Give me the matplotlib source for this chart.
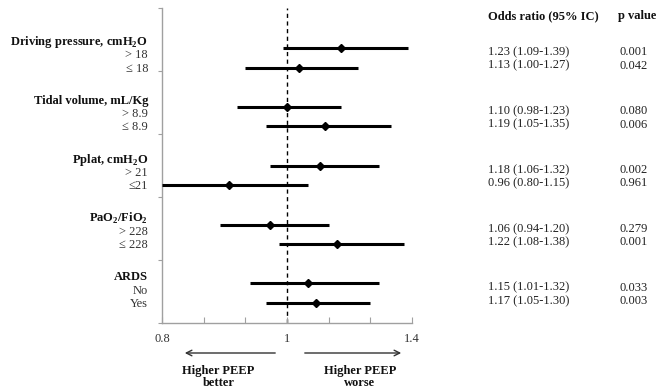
import matplotlib
matplotlib.use("Agg")
import matplotlib.pyplot as plt
import numpy as np
from matplotlib.transforms import blended_transform_factory

plt.rcParams["font.family"] = ["Liberation Serif", "DejaVu Serif"]
plt.rcParams["mathtext.fontset"] = "custom"
plt.rcParams["mathtext.rm"] = "Liberation Serif"
plt.rcParams["mathtext.bf"] = "Liberation Serif:bold"

# Dados
groups = [
    r"Driving pressure, cmH$_\mathbf{2}$O",
    r"Tidal volume, mL/Kg",
    r"Pplat, cmH$_\mathbf{2}$O",
    r"PaO$_\mathbf{2}$/FiO$_\mathbf{2}$",
    r"ARDS",
]
subgroups = [
    ("> 18", "≤ 18"),
    ("> 8.9", "≤ 8.9"),
    ("> 21", "≤21"),
    ("> 228", "≤ 228"),
    ("No", "Yes"),
]
odds = [1.23, 1.13, 1.10, 1.19, 1.18, 0.96, 1.06, 1.22, 1.15, 1.17]
ci_low = [1.09, 1.00, 0.98, 1.05, 1.06, 0.80, 0.94, 1.08, 1.01, 1.05]
ci_high = [1.39, 1.27, 1.23, 1.35, 1.32, 1.15, 1.20, 1.38, 1.32, 1.30]
p_values = ["0.001", "0.042", "0.080", "0.006", "0.002", "0.961", "0.279", "0.001", "0.033", "0.003"]
tick_pos = [0.8, 0.9, 1.0, 1.1, 1.2, 1.3, 1.4]
tick_labels = ["0.8", "", "", "1", "", "", "1.4"]
ref_line = 1.1  # linha tracejada (rotulada "1" no original)

# posições verticais: pares de linhas separados por grupos
y_pos = []
for g in range(len(groups)):
    y_pos += [3 * g + 1, 3 * g + 2]
y_pos = np.array(y_pos, dtype=float)

fig = plt.figure(figsize=(6.62, 3.88), dpi=100)
ax = fig.add_axes([162 / 662, 1 - 323 / 388, 250 / 662, 315 / 388])

ylim = (15.02, -1.04)
ax.set_xlim(0.8, 1.4)
ax.set_ylim(*ylim)

ax.axvline(ref_line, color="black", linestyle=(0, (3, 2.5)), linewidth=1.0, zorder=1)

for y, o, lo, hi in zip(y_pos, odds, ci_low, ci_high):
    ax.plot([lo, hi], [y, y], color="black", linewidth=2.2, solid_capstyle="butt", zorder=3, clip_on=False)
    ax.plot(o, y, marker="D", markersize=4.5, color="black", zorder=4, clip_on=False)

for side in ("top", "right"):
    ax.spines[side].set_visible(False)
for side in ("left", "bottom"):
    ax.spines[side].set_color("#a0a0a0")
    ax.spines[side].set_linewidth(1.0)

ax.set_xticks(tick_pos)
ax.set_xticklabels(tick_labels, fontsize=9, color="#333333")
ax.tick_params(axis="x", direction="in", length=4, color="#a0a0a0", pad=7)
ax.set_yticks(np.linspace(ylim[1], ylim[0], 6))
ax.set_yticklabels([])
ax.tick_params(axis="y", direction="out", length=3, color="#a0a0a0")

trans = blended_transform_factory(ax.transAxes, ax.transData)
label_x = (148 - 162) / 250
or_x = (488 - 162) / 250
p_x = (620 - 162) / 250

for g, (name, (s1, s2)) in enumerate(zip(groups, subgroups)):
    y2 = y_pos[2 * g + 1]
    ax.text(label_x, y2 - 1.3, name, transform=trans, ha="right", va="center",
            fontsize=9, fontweight="bold", color="#111111")
    ax.text(label_x, y2 - 0.63, s1, transform=trans, ha="right", va="center", fontsize=9, color="#333333")
    ax.text(label_x, y2 + 0.05, s2, transform=trans, ha="right", va="center", fontsize=9, color="#333333")

for i, (o, lo, hi, p) in enumerate(zip(odds, ci_low, ci_high, p_values)):
    y2 = y_pos[2 * (i // 2) + 1]
    y = y2 - 0.78 if i % 2 == 0 else y2 - 0.1
    ax.text(or_x, y, f"{o:.2f} ({lo:.2f}-{hi:.2f})", transform=trans, ha="left", va="center",
            fontsize=9, color="#222222")
    ax.text(p_x, y, p, transform=trans, ha="left", va="center", fontsize=9, color="#222222")

ax.text(or_x, 0.975, "Odds ratio (95% IC)", transform=ax.transAxes, ha="left", va="center",
        fontsize=9, fontweight="bold", color="#111111")
ax.text((618 - 162) / 250, 0.975, "p value", transform=ax.transAxes, ha="left", va="center",
        fontsize=9, fontweight="bold", color="#111111")

# Setas inferiores
arrow_y = (323 - 353) / 315
ax.annotate("", xy=(0.08, arrow_y), xytext=(0.464, arrow_y), xycoords="axes fraction",
            arrowprops=dict(arrowstyle="->", color="#333333", lw=1.0))
ax.annotate("", xy=(0.968, arrow_y), xytext=(0.56, arrow_y), xycoords="axes fraction",
            arrowprops=dict(arrowstyle="->", color="#333333", lw=1.0))
text_y = (323 - 377) / 315
ax.text(0.226, text_y, "Higher PEEP\nbetter", transform=ax.transAxes, ha="center", va="center",
        fontsize=9, fontweight="bold", color="#111111", linespacing=1.1)
ax.text(0.792, text_y, "Higher PEEP\nworse", transform=ax.transAxes, ha="center", va="center",
        fontsize=9, fontweight="bold", color="#111111", linespacing=1.1)

fig.savefig("out.png", dpi=100, facecolor="white")
